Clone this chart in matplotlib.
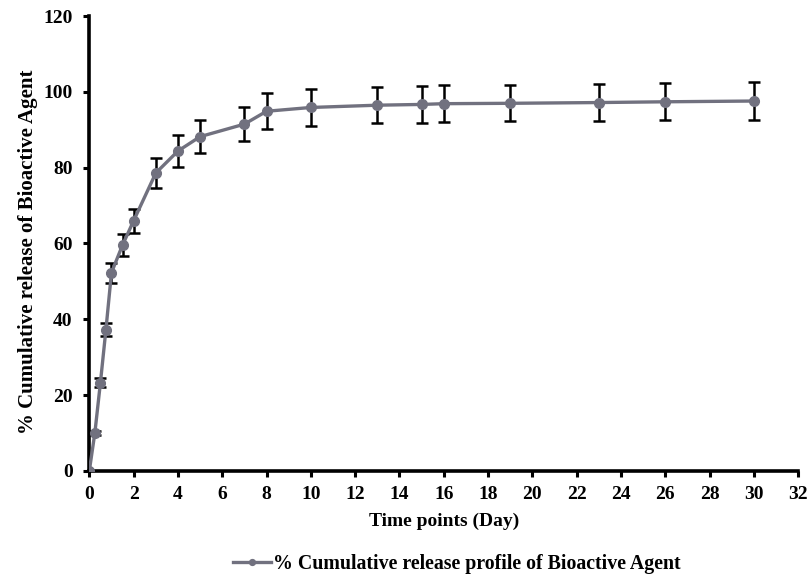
import matplotlib.pyplot as plt

# release profile of the bioactive agent
days = [0, 0.25, 0.5, 0.75, 1, 1.5, 2, 3, 4, 5, 7, 8, 10, 13, 15, 16, 19, 23, 26, 30]
release = [0, 10.0, 23.2, 37.3, 52.3, 59.6, 66.0, 78.6, 84.4, 88.2, 91.5, 94.9,
           95.9, 96.5, 96.7, 96.9, 97.0, 97.2, 97.4, 97.6]
sd = [0, 0.6, 1.2, 1.8, 2.6, 2.8, 3.2, 4.0, 4.2, 4.4, 4.5, 4.8,
      4.9, 4.8, 4.8, 4.8, 4.8, 4.8, 4.9, 4.9]

x_ticks = list(range(0, 33, 2))
y_ticks = list(range(0, 121, 20))

plt.rcParams['font.family'] = ['Liberation Serif', 'DejaVu Serif']
plt.rcParams['font.weight'] = 'bold'

fig = plt.figure(figsize=(8.12, 5.77), dpi=100)
ax = fig.add_axes([0.110, 0.184, 0.873, 0.788])

ax.errorbar(days, release, yerr=sd, fmt='none', ecolor='black',
            elinewidth=1.8, capsize=4, capthick=1.8, zorder=2)
ax.plot(days, release, color='#71717f', lw=2.4, marker='o', ms=7,
        label='% Cumulative release profile of Bioactive Agent', zorder=3)

ax.set_xlim(0, 32)
ax.set_ylim(0, 120)
ax.set_xticks(x_ticks)
ax.set_yticks(y_ticks)
for side in ('top', 'right'):
    ax.spines[side].set_visible(False)
for side in ('left', 'bottom'):
    ax.spines[side].set_linewidth(2.6)
ax.tick_params(axis='both', direction='out', length=4, width=2.2, labelsize=14)
ax.tick_params(axis='x', pad=7)
ax.tick_params(axis='y', pad=8)
for lab in ax.get_xticklabels() + ax.get_yticklabels():
    lab.set_fontweight('bold')

ax.set_xlabel('Time points (Day)', fontsize=14, fontweight='bold', va='center')
ax.xaxis.set_label_coords(0.5, -0.112)
ax.set_ylabel('% Cumulative release of Bioactive Agent', fontsize=15,
              fontweight='bold', va='center')
ax.yaxis.set_label_coords(-0.086, 0.482)

ax.legend(loc='center', bbox_to_anchor=(0.518, -0.204), frameon=False,
          prop={'size': 14.3, 'weight': 'bold'}, handlelength=1.9,
          handletextpad=0.1, markerscale=0.6, borderaxespad=0)

fig.savefig('out.png', dpi=100)
